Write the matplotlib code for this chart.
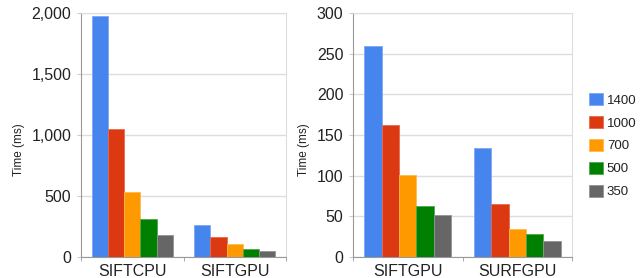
import numpy as np
import matplotlib
matplotlib.use('Agg')
import matplotlib.pyplot as plt
import matplotlib.patches as patches

plt.rcParams['font.family'] = ['Liberation Sans', 'DejaVu Sans']

# data
sizes = ['1400', '1000', '700', '500', '350']
colors = ['#4684ee', '#dc3912', '#ff9900', '#008000', '#666666']
edge_colors = ['#7da7f2', '#e66a4d', '#ffb84d', '#4da64d', '#949494']

left_cats = ['SIFTCPU', 'SIFTGPU']
left_vals = [
    [1973, 262],   # 1400
    [1052, 161],   # 1000
    [530, 103],    # 700
    [311, 68],     # 500
    [178, 52],     # 350
]
left_ticks = [0, 500, 1000, 1500, 2000]

right_cats = ['SIFTGPU', 'SURFGPU']
right_vals = [
    [260, 134],
    [162, 65],
    [101, 35],
    [63, 28],
    [52, 20],
]
right_ticks = [0, 50, 100, 150, 200, 250, 300]

W, H = 640, 278
fig = plt.figure(figsize=(W / 100, H / 100), dpi=100)
fig.patch.set_facecolor('white')

ax1 = fig.add_axes([81 / W, 21 / H, 205 / W, 244 / H])
ax2 = fig.add_axes([353 / W, 21 / H, 219 / W, 244 / H])

bar_w = 0.158


def draw(ax, cats, vals, ticks, label_x, fmt):
    x = np.arange(len(cats))
    n = len(vals)
    for i, v in enumerate(vals):
        off = (i - (n - 1) / 2) * bar_w
        ax.bar(x + off, v, bar_w, color=colors[i], edgecolor=edge_colors[i],
               linewidth=0.6, zorder=3, label=sizes[i])
    ax.set_xlim(-0.5, len(cats) - 0.5)
    ax.set_ylim(0, ticks[-1])
    ax.set_yticks(ticks)
    ax.set_yticklabels([fmt(t) for t in ticks], fontsize=11.5, color='#222222')
    ax.set_xticks(x)
    ax.set_xticklabels(cats, fontsize=11.5, color='#222222')
    ax.tick_params(axis='x', length=0, pad=5)
    ax.tick_params(axis='y', length=3, color='#cccccc', pad=4)
    # small separator ticks on the category axis
    ax.set_xticks(np.arange(-0.5, len(cats)), minor=True)
    ax.tick_params(axis='x', which='minor', length=3, color='#999999')
    ax.grid(axis='y', color='#dddddd', linewidth=1, zorder=0)
    ax.set_axisbelow(True)
    for s in ['top', 'right']:
        ax.spines[s].set_color('#dddddd')
    ax.spines['left'].set_color('#999999')
    ax.spines['bottom'].set_color('#999999')
    ax.set_ylabel('Time (ms)', fontsize=8.5, color='#222222')
    ax.yaxis.set_label_coords(label_x, 0.44)


draw(ax1, left_cats, left_vals, left_ticks, -0.275, lambda t: f'{t:,}')
draw(ax2, right_cats, right_vals, right_ticks, -0.195, lambda t: f'{t}')

handles = [patches.Patch(facecolor=colors[i], edgecolor=edge_colors[i],
                         linewidth=0.6, label=sizes[i]) for i in range(len(sizes))]
fig.legend(handles=handles, loc='center left', bbox_to_anchor=(589 / W, 0.476),
           frameon=False, fontsize=9.5, handlelength=1.05, handleheight=1.05,
           handletextpad=0.3, labelspacing=0.7, borderpad=0, borderaxespad=0,
           labelcolor='#222222')

fig.savefig('out.png', dpi=100, facecolor='white')
